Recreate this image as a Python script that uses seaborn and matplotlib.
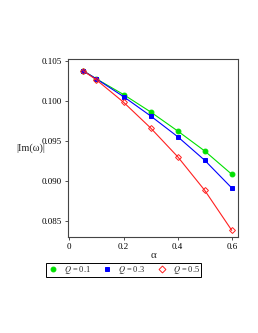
import pandas as pd
import matplotlib.pyplot as plt
import seaborn as sns
from matplotlib.lines import Line2D

alpha = [0.05, 0.1, 0.2, 0.3, 0.4, 0.5, 0.6]
q01 = [0.10379, 0.10275, 0.10080, 0.09863, 0.09625, 0.09375, 0.09084]
q03 = [0.10378, 0.10275, 0.10054, 0.09813, 0.09554, 0.09259, 0.08913]
q05 = [0.10378, 0.10263, 0.09984, 0.09663, 0.09304, 0.08884, 0.08384]
labels = ['0.1', '0.3', '0.5']

df = pd.concat([
    pd.DataFrame({'alpha': alpha, 'im': q01, 'Q': labels[0]}),
    pd.DataFrame({'alpha': alpha, 'im': q03, 'Q': labels[1]}),
    pd.DataFrame({'alpha': alpha, 'im': q05, 'Q': labels[2]}),
])

sns.set_style('ticks')
plt.rcParams['font.family'] = ['Liberation Serif', 'DejaVu Serif']
plt.rcParams['mathtext.fontset'] = 'stix'

fig = plt.figure(figsize=(2.58, 3.33), dpi=100)
ax = fig.add_axes([0.2636, 0.288, 0.6589, 0.534])

colors = {'0.1': '#00e000', '0.3': '#0000ff', '0.5': '#ff2020'}
markers = {'0.1': 'o', '0.3': 's', '0.5': 'D'}
for q in labels:
    sub = df[df['Q'] == q]
    sns.lineplot(data=sub, x='alpha', y='im', color=colors[q], lw=0.8,
                 marker=markers[q], markersize=3.5 if q != '0.5' else 3,
                 markerfacecolor='none' if q == '0.5' else colors[q],
                 markeredgecolor=colors[q], markeredgewidth=0.7, ax=ax)

ax.set_xlim(-0.005, 0.623)
ax.set_ylim(0.083, 0.1052)
ax.set_xticks([0, 0.2, 0.4, 0.6])
ax.set_xticklabels(['0', '0.2', '0.4', '0.6'])
ax.set_yticks([0.085, 0.090, 0.095, 0.100, 0.105])
ax.set_yticklabels(['0.085', '0.090', '0.095', '0.100', '0.105'])
ax.tick_params(labelsize=6.5, length=2.5, width=0.6, pad=2, colors='#333333', labelcolor='black')
for s in ax.spines.values():
    s.set_visible(True)
    s.set_linewidth(0.8)
    s.set_color('#444444')
ax.set_xlabel('α', fontsize=8, labelpad=0)
ax.set_ylabel('|Im(ω)|', fontsize=7.5, rotation=0, labelpad=8, va='center')

handles = [Line2D([], [], ls='', marker=markers[q], color=colors[q], markersize=3.5,
                  markerfacecolor='none' if q == '0.5' else colors[q],
                  markeredgewidth=0.7) for q in labels]
leg = fig.legend(handles, [f'$Q$ = {q}' for q in labels], loc='center',
                 bbox_to_anchor=(0.4787, 0.189), ncol=3, fontsize=6, frameon=True,
                 fancybox=False, edgecolor='black', framealpha=1, borderpad=0.15,
                 handletextpad=0.6, columnspacing=1.3, handlelength=1.4,
                 borderaxespad=0)
leg.get_frame().set_linewidth(0.7)

fig.savefig('out.png', dpi=100)
